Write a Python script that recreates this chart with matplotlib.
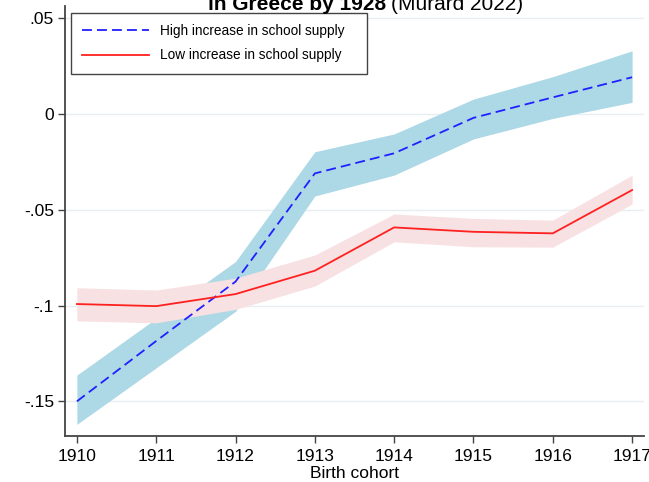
import matplotlib
matplotlib.use("Agg")
import matplotlib.pyplot as plt

plt.rcParams['font.family'] = ['Liberation Sans', 'DejaVu Sans']

years = [1910, 1911, 1912, 1913, 1914, 1915, 1916, 1917]

# high increase in school supply
high = [-0.150, -0.1185, -0.0875, -0.031, -0.0205, -0.002, 0.0087, 0.0192]
high_lo = [-0.162, -0.1325, -0.103, -0.0428, -0.0319, -0.013, -0.0023, 0.0061]
high_hi = [-0.1363, -0.1067, -0.077, -0.0197, -0.0104, 0.0078, 0.0195, 0.033]

# low increase in school supply
low = [-0.0992, -0.1003, -0.094, -0.0818, -0.0592, -0.0615, -0.0623, -0.0397]
low_lo = [-0.108, -0.109, -0.102, -0.0898, -0.0667, -0.0693, -0.0695, -0.047]
low_hi = [-0.0907, -0.0919, -0.0857, -0.0736, -0.0522, -0.0545, -0.0554, -0.0319]

yticks = [0.05, 0, -0.05, -0.1, -0.15]
ytick_labels = ['.05', '0', '-.05', '-.1', '-.15']

fig = plt.figure(figsize=(6.49, 4.82), dpi=100)
ax = fig.add_axes([65/649, 46/482, 579/649, 430/482])

ax.fill_between(years, high_lo, high_hi, color='#add8e6', lw=0, zorder=2)
ax.fill_between(years, low_lo, low_hi, color='#f7e1e2', lw=0, zorder=3)
ax.plot(years, high, color='#2020ff', lw=1.3, dashes=(5.5, 2.8), zorder=4,
        label='High increase in school supply')
ax.plot(years, low, color='#ff2020', lw=1.3, zorder=5,
        label='Low increase in school supply')

ax.set_xlim(1909.85, 1917.15)
ax.set_ylim(-0.1681, 0.0564)
ax.set_xticks(years)
ax.set_yticks(yticks)
ax.set_yticklabels(ytick_labels)
ax.tick_params(labelsize=12.5, length=5, width=1, color='#444444', pad=3)
ax.tick_params(axis='x', pad=4.5)
ax.grid(axis='y', color='#e6eef0', lw=1, zorder=0)
ax.set_axisbelow(True)
for s in ['top', 'right']:
    ax.spines[s].set_visible(False)
for s in ['left', 'bottom']:
    ax.spines[s].set_color('#444444')
    ax.spines[s].set_linewidth(1.3)
ax.set_xlabel('Birth cohort', fontsize=12.5, labelpad=1.5)

leg = ax.legend(loc='upper left', bbox_to_anchor=(6/579, 1 - 7/430, 296/579, 0.0),
                mode='expand', fontsize=9.8, handlelength=4.9, handletextpad=0.8,
                labelspacing=0.75, borderpad=0.82, borderaxespad=0, fancybox=False,
                framealpha=1, edgecolor='#444444')
leg.get_frame().set_linewidth(1.0)

fig.text(386/649, 1 - 10/482, 'in Greece by 1928', fontsize=15, fontweight='bold',
         ha='right', va='baseline')
fig.text(391/649, 1 - 10/482, '(Murard 2022)', fontsize=15, ha='left', va='baseline')

fig.savefig('out.png', dpi=100)
